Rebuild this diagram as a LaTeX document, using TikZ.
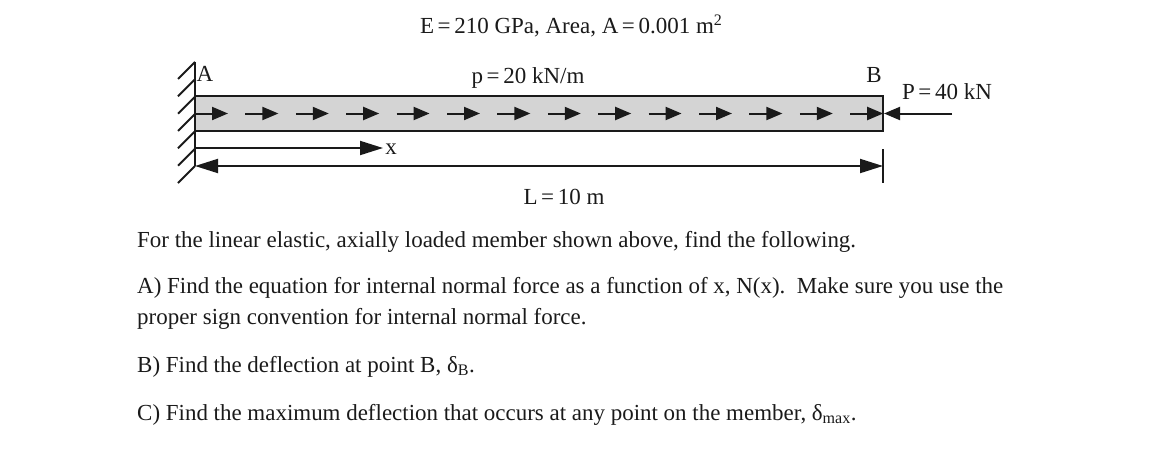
\documentclass[tikz,border=0pt]{standalone}
\usepackage{fontspec}
\setmainfont{Liberation Serif}
\usepackage{xcolor}
\usetikzlibrary{arrows.meta}
\definecolor{beamgray}{HTML}{D4D4D4}
\definecolor{inkblack}{HTML}{1A1A1A}
\newcommand{\eqs}{\hspace{3.6pt}=\hspace{3.6pt}}
\begin{document}
\begin{tikzpicture}[x=1pt,y=-1pt]
	 \tikzstyle{line text}=[anchor=base west,inner sep=0pt,font=\fontsize{22.95}{24}\selectfont,text=inkblack]
	 \tikzstyle{label}=[anchor=base,inner sep=0pt,font=\fontsize{23}{24}\selectfont,text=inkblack]
	 \tikzstyle{beam}=[draw=inkblack,line width=2pt,fill=beamgray]
	 \tikzstyle{hatch}=[draw=inkblack,line width=2pt]
	 \tikzstyle{load arrow}=[draw=inkblack,line width=2pt,-{Triangle[length=16pt,width=13pt]}]
	 \tikzstyle{dim arrow}=[draw=inkblack,line width=2pt,-{Triangle[length=23pt,width=14pt]}]

	 \useasboundingbox (0,0) rectangle (1170,471);

	 \node[beam,minimum width=688pt,minimum height=35pt,inner sep=0pt,outer sep=0pt,anchor=north west] (beam) at (195,96) {};

	 \coordinate (wall top) at (195,62);
	 \coordinate (wall bottom) at (195,166);
	 \coordinate (x start) at (195,148);
	 \coordinate (x end) at (383,148);
	 \coordinate (dim end) at (883,166);
	 \coordinate (tick top) at (883,149);
	 \coordinate (tick bottom) at (883,183);
	 \coordinate (load end) at (952,113.5);
	 \coordinate (load tip) at (884,113.5);

	 % wall and its hatching
	 \draw[hatch] (wall top) -- (wall bottom);
	 \foreach \y in {62,79.3,96.7,114,131.3,148.7,166}
		 \draw[hatch] (195,\y) -- ++(-17,17);

	 % distributed load
	 \foreach \i in {0,...,13}
		 \draw[load arrow] (195+50.4*\i,113.5) -- ++(33,0);

	 % end load, x axis, length
	 \draw[load arrow] (load end) -- (load tip);
	 \draw[dim arrow] (x start) -- (x end);
	 \draw[dim arrow,{Triangle[length=23pt,width=14pt]}-{Triangle[length=23pt,width=14pt]}] (wall bottom) -- (dim end);
	 \draw[hatch] (tick top) -- (tick bottom);

	 \node[label] (labelA) at (205,81) {A};
	 \node[label] (labelB) at (874,82) {B};
	 \node[label] (labelx) at (391,154) {x};
	 \node[label] (labelp) at (528,83) {p\eqs 20 kN/m};
	 \node[label] (labelP) at (947,99) {P\eqs 40 kN};
	 \node[label] (labelL) at (564,204) {L\eqs 10 m};
	 \node[label] (props) at (571,34) {E\eqs 210 GPa, Area, A\eqs 0.001 m\raisebox{0.85ex}{\fontsize{16}{18}\selectfont 2}};

	 \node[line text] (line1) at (137,247) {For the linear elastic, axially loaded member shown above, find the following.};
	 \node[line text] (line2) at (137,293) {A) Find the equation for internal normal force as a function of x, N(x).\ \ Make sure you use the};
	 \node[line text] (line3) at (137,324) {proper sign convention for internal normal force.};
	 \node[line text] (line4) at (137,372) {B) Find the deflection at point B, δ\textsubscript{B}.};
	 \node[line text] (line5) at (137,420) {C) Find the maximum deflection that occurs at any point on the member, δ\textsubscript{max}.};
\end{tikzpicture}
\end{document}
